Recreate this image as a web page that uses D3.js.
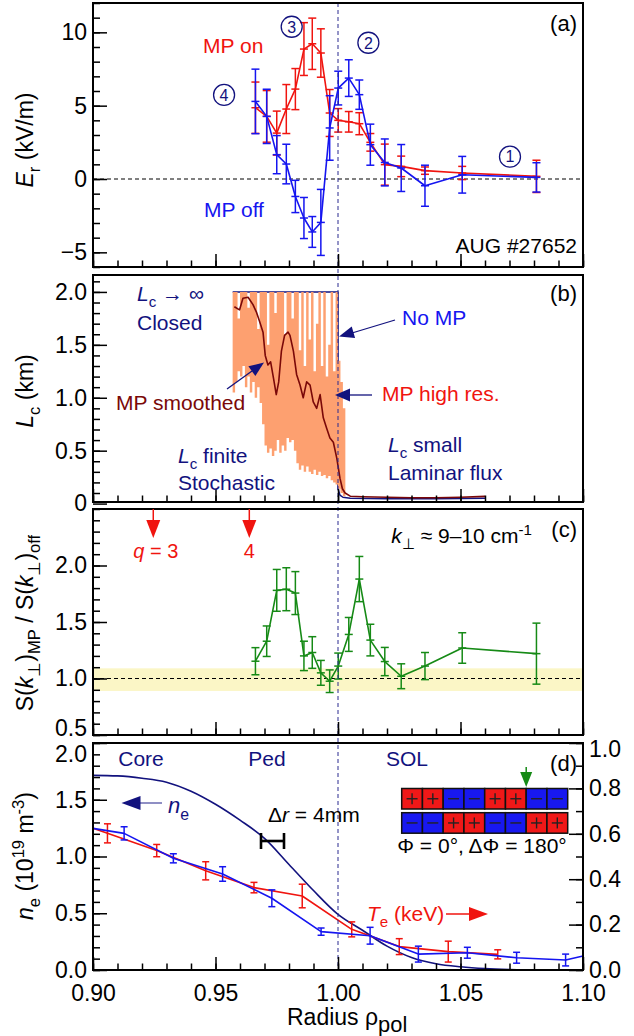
<!DOCTYPE html>
<html>
<head>
<meta charset="utf-8">
<script src="https://cdn.jsdelivr.net/npm/d3@7"></script>
<style>
body { margin: 0; background: #fff; }
svg text { font-family: "Liberation Sans", Arial, Helvetica, sans-serif; }
</style>
</head>
<body>
<div id="chart"></div>
<script>
// reflectometry channels, shared by (a) and (c)
var chanRho = [0.9663, 0.9709, 0.9750, 0.9789, 0.9826, 0.9861, 0.9895, 0.9930, 0.9966,
  1.0001, 1.0044, 1.0087, 1.0132, 1.0191, 1.0258, 1.0355, 1.0507, 1.0810];

// (a) Er in kV/m
var erOn = [4.86, 4.27, 3.13, 4.77, 6.13, 8.86, 9.22, 8.59, 4.5, 4.0, 3.9, 3.77, 2.5, 0.98, 0.86, 0.57, 0.41, 0.18];
var erOnErr = [1.75, 1.76, 1.5, 1.67, 1.4, 1.8, 1.75, 1.65, 1.6, 0.8, 0.7, 0.75, 0.6, 1.4, 0.7, 0.25, 0.45, 1.1];
var erOff = [5.29, 4.27, 1.66, 1.02, -1.19, -2.66, -3.61, -2.96, 3.48, 6.2, 6.88, 5.75, 2.34, 1.13, 0.75, -0.46, 0.29, 0.11];
var erOffErr = [2.2, 1.85, 1.3, 1.35, 1.1, 1.4, 1.05, 2.25, 2.2, 1.15, 1.25, 1.0, 1.4, 1.6, 1.6, 1.4, 1.25, 1.0];

// (b) connection length in km
var lcHiRho = [0.957, 0.958, 0.959, 0.960, 0.961, 0.962, 0.963, 0.964, 0.965, 0.966, 0.967, 0.968,
  0.969, 0.970, 0.971, 0.972, 0.973, 0.974, 0.975, 0.976, 0.977, 0.978, 0.979, 0.980, 0.981, 0.982,
  0.983, 0.984, 0.985, 0.986, 0.987, 0.988, 0.989, 0.990, 0.991, 0.992, 0.993, 0.994, 0.995, 0.996,
  0.997, 0.998, 0.999, 1.000, 1.001, 1.002, 1.003];
var lcHiLow = [1.05, 1.15, 1.25, 1.20, 1.30, 1.10, 1.20, 1.05, 1.15, 1.00, 1.10, 0.95,
  0.75, 0.55, 0.48, 0.52, 0.45, 0.50, 0.60, 0.48, 0.55, 0.50, 0.62, 0.58, 0.60, 0.50,
  0.38, 0.32, 0.36, 0.30, 0.35, 0.30, 0.28, 0.32, 0.27, 0.30, 0.26, 0.27, 0.24, 0.26,
  0.22, 0.20, 0.18, 0.14, 0.10, 0.07, 0.06];
var lcHiHigh = [2.0, 2.0, 1.75, 2.0, 2.0, 2.0, 1.85, 2.0, 2.0, 2.0, 1.65, 2.0,
  2.0, 2.0, 1.5, 2.0, 2.0, 1.8, 2.0, 2.0, 2.0, 1.6, 2.0, 2.0, 1.75, 2.0,
  2.0, 1.45, 2.0, 1.3, 2.0, 1.55, 2.0, 1.25, 1.7, 2.0, 1.3, 2.0, 1.2, 1.5,
  2.0, 1.25, 2.0, 1.35, 1.15, 0.90, 0.06];
var lcSmRho = [0.9577, 0.9598, 0.9612, 0.9633, 0.9653, 0.9667, 0.9680, 0.9694, 0.9703, 0.9714,
  0.9725, 0.9737, 0.9748, 0.9758, 0.9769, 0.9782, 0.9796, 0.9804, 0.9818, 0.9831, 0.9845,
  0.9858, 0.9872, 0.9886, 0.9899, 0.9913, 0.9927, 0.9940, 0.9954, 0.9967, 0.9981, 0.9995,
  1.0008, 1.0018, 1.0029, 1.005, 1.01, 1.02, 1.03, 1.04, 1.05, 1.06];
var lcSm = [1.86, 1.83, 1.94, 1.95, 1.88, 1.81, 1.72, 1.62, 1.40, 1.31,
  1.34, 1.18, 1.03, 1.15, 1.44, 1.59, 1.62, 1.59, 1.44, 1.22, 1.12,
  1.00, 1.15, 1.12, 0.96, 0.90, 1.03, 0.81, 0.71, 0.62, 0.58, 0.43,
  0.24, 0.14, 0.10, 0.07, 0.065, 0.06, 0.055, 0.055, 0.06, 0.068];
var lcNoMpRho = [0.957, 1.0, 1.0, 1.0008, 1.002, 1.005, 1.02, 1.04, 1.06];
var lcNoMp = [2.0, 2.0, 0.14, 0.08, 0.06, 0.05, 0.045, 0.045, 0.05];

// (c) S(k)_MP / S(k)_off
var sRatio = [1.153, 1.33, 1.78, 1.79, 1.756, 1.2, 1.23, 1.05, 0.976, 1.11, 1.39, 1.88, 1.34, 1.15, 1.02, 1.11, 1.27, 1.22];
var sRatioErr = [0.12, 0.135, 0.185, 0.19, 0.19, 0.13, 0.14, 0.11, 0.1, 0.115, 0.15, 0.2, 0.14, 0.125, 0.11, 0.12, 0.135, 0.27];
var qRho = [0.9246, 0.9638];
var qLabels = ['q = 3', '4'];

// (d) profiles
var neRho = [0.90, 0.91, 0.92, 0.93, 0.94, 0.95, 0.96, 0.97, 0.98, 0.99, 1.00,
  1.01, 1.02, 1.03, 1.04, 1.05, 1.06, 1.07, 1.08, 1.10];
var ne = [1.715, 1.71, 1.69, 1.655, 1.575, 1.46, 1.32, 1.16, 0.93, 0.70, 0.49,
  0.35, 0.21, 0.11, 0.055, 0.028, 0.012, 0.004, 0.0, 0.0];
var teOnRho = [0.9059, 0.926, 0.946, 0.9657, 0.9854, 1.0056, 1.025, 1.045, 1.0652];
var teOn = [0.602, 0.526, 0.437, 0.363, 0.326, 0.179, 0.103, 0.081, 0.069];
var teOnErr = [0.042, 0.027, 0.040, 0.023, 0.052, 0.033, 0.035, 0.046, 0.020];
var teOffRho = [0.9127, 0.9328, 0.9529, 0.973, 0.9931, 1.0131, 1.0328, 1.0528, 1.0729, 1.0929];
var teOff = [0.602, 0.492, 0.423, 0.316, 0.169, 0.151, 0.070, 0.076, 0.054, 0.044];
var teOffErr = [0.029, 0.020, 0.032, 0.037, 0.016, 0.037, 0.035, 0.024, 0.024, 0.026];
var teEdgeRho = [0.90, 1.10];
var teOnEdge = [0.624];
var teOffEdge = [0.624, 0.062];
var coilTop = ['+', '+', '-', '-', '+', '+', '-', '-'];
var coilBottom = ['-', '-', '+', '+', '-', '-', '+', '+'];

// tick labels
var xTicks = [0.90, 0.95, 1.00, 1.05, 1.10];
var aTicks = [-5, 0, 5, 10];
var bTicks = [0, 0.5, 1.0, 1.5, 2.0];
var cTicks = [0.5, 1.0, 1.5, 2.0];
var dTicks = [0.0, 0.5, 1.0, 1.5, 2.0];
var dRightTicks = [0.0, 0.2, 0.4, 0.6, 0.8, 1.0];

var RED = '#f0140f', BLUE = '#1515f0', NAVY = '#12127e', GREEN = '#168a16';

var svg = d3.select('#chart').append('svg').attr('width', 634).attr('height', 1036);

var x_scale = d3.scaleLinear().domain([0.9, 1.1]).range([93, 583]);
var y_a = d3.scaleLinear().domain([-6, 12]).range([267, 3]);
var y_b = d3.scaleLinear().domain([0.015, 2.16]).range([502, 275]);
var y_c = d3.scaleLinear().domain([0.5, 2.5]).range([735, 509]);
var y_d = d3.scaleLinear().domain([0, 2]).range([970, 743]);
var y_dr = d3.scaleLinear().domain([0, 1]).range([970, 743]);

//text with italics / sub / superscripts: parts are [text, flags]
function richText(g, x, y, parts, size, color, anchor, subScale) {
  var t = g.append('text').attr('x', x).attr('y', y).attr('font-size', size)
    .attr('fill', color).attr('text-anchor', anchor || 'start');
  var shift = 0;
  parts.forEach(function(p) {
    var f = p[1] || '';
    var want = f.indexOf('b') >= 0 ? size * 0.3 : (f.indexOf('p') >= 0 ? -size * 0.4 : 0);
    var ts = t.append('tspan').text(p[0]).attr('dy', want - shift);
    shift = want;
    if (f.indexOf('i') >= 0) ts.attr('font-style', 'italic');
    if (want !== 0) ts.attr('font-size', size * (subScale || 0.72));
  });
  return t;
}

function arrowHead(g, tipX, tipY, dirX, dirY, len, half, color) {
  var bx = tipX - dirX * len, by = tipY - dirY * len;
  var px = -dirY * half, py = dirX * half;
  g.append('path')
    .attr('d', 'M' + tipX + ',' + tipY + 'L' + (bx + px) + ',' + (by + py) + 'L' + (bx - px) + ',' + (by - py) + 'Z')
    .attr('fill', color);
}

function errBars(g, y, rho, val, err, color, cap, mid) {
  var rows = rho.map(function(r, i) { return {r: r, v: val[i], e: err[i]}; });
  var eg = g.append('g').attr('stroke', color).attr('stroke-width', 1.5);
  eg.selectAll('.bar').data(rows).enter().append('line')
    .attr('x1', function(d) { return x_scale(d.r); })
    .attr('x2', function(d) { return x_scale(d.r); })
    .attr('y1', function(d) { return y(d.v - d.e); })
    .attr('y2', function(d) { return y(d.v + d.e); });
  [-1, 1].forEach(function(s) {
    eg.selectAll('.cap' + s).data(rows).enter().append('line')
      .attr('x1', function(d) { return x_scale(d.r) - cap / 2; })
      .attr('x2', function(d) { return x_scale(d.r) + cap / 2; })
      .attr('y1', function(d) { return y(d.v + s * d.e); })
      .attr('y2', function(d) { return y(d.v + s * d.e); });
  });
  if (mid) {
    eg.selectAll('.mid').data(rows).enter().append('line')
      .attr('x1', function(d) { return x_scale(d.r) - mid / 2; })
      .attr('x2', function(d) { return x_scale(d.r) + mid / 2; })
      .attr('y1', function(d) { return y(d.v); })
      .attr('y2', function(d) { return y(d.v); });
  }
}

function drawLine(g, y, rho, val, color, width, curve) {
  var line = d3.line()
    .x(function(d, i) { return x_scale(rho[i]); })
    .y(function(d) { return y(d); });
  if (curve) line.curve(curve);
  g.append('path').datum(val).attr('d', line)
    .attr('fill', 'none').attr('stroke', color).attr('stroke-width', width)
    .attr('stroke-linejoin', 'round');
}

var plot = svg.append('g');

// yellow band in (c) and dashed reference lines
plot.append('rect')
  .attr('x', x_scale(0.9)).attr('width', x_scale(1.1) - x_scale(0.9))
  .attr('y', y_c(1.09)).attr('height', y_c(0.89) - y_c(1.09))
  .attr('fill', '#fbf6c6');
plot.append('line')
  .attr('x1', x_scale(0.9)).attr('x2', x_scale(1.1)).attr('y1', y_a(0)).attr('y2', y_a(0))
  .attr('stroke', '#000').attr('stroke-width', 1).attr('stroke-dasharray', '4,3');
plot.append('line')
  .attr('x1', x_scale(0.9)).attr('x2', x_scale(1.1)).attr('y1', y_c(1)).attr('y2', y_c(1))
  .attr('stroke', '#000').attr('stroke-width', 1).attr('stroke-dasharray', '4,3');

// (a)
drawLine(plot, y_a, chanRho, erOn, RED, 1.6);
errBars(plot, y_a, chanRho, erOn, erOnErr, RED, 8, 8);
drawLine(plot, y_a, chanRho, erOff, BLUE, 1.6);
errBars(plot, y_a, chanRho, erOff, erOffErr, BLUE, 8, 8);

// (b)
drawLine(plot, y_b, lcNoMpRho, lcNoMp, NAVY, 1.5);
var hiRows = lcHiRho.map(function(r, i) { return {r: r, lo: lcHiLow[i], hi: lcHiHigh[i]}; });
plot.append('path').datum(hiRows)
  .attr('d', d3.area().curve(d3.curveStepAfter)
    .x(function(d) { return x_scale(d.r); })
    .y0(function(d) { return y_b(d.lo); })
    .y1(function(d) { return y_b(d.hi); }))
  .attr('fill', '#fda070');
drawLine(plot, y_b, lcSmRho, lcSm, '#7a0808', 1.6);

// (c)
drawLine(plot, y_c, chanRho, sRatio, GREEN, 1.6);
errBars(plot, y_c, chanRho, sRatio, sRatioErr, GREEN, 8, 8);

// (d)
drawLine(plot, y_d, neRho, ne, NAVY, 1.6, d3.curveMonotoneX);
drawLine(plot, y_dr, [teEdgeRho[0]].concat(teOnRho), teOnEdge.concat(teOn), RED, 1.6);
errBars(plot, y_dr, teOnRho, teOn, teOnErr, RED, 7, 0);
drawLine(plot, y_dr, [teEdgeRho[0]].concat(teOffRho, [teEdgeRho[1]]), [teOffEdge[0]].concat(teOff, [teOffEdge[1]]), BLUE, 1.6);
errBars(plot, y_dr, teOffRho, teOff, teOffErr, BLUE, 7, 0);

// separatrix
svg.append('line')
  .attr('x1', x_scale(1)).attr('x2', x_scale(1)).attr('y1', 3).attr('y2', 970)
  .attr('stroke', '#2a2a90').attr('stroke-width', 1).attr('stroke-dasharray', '4,3');

// frames and axes
function yAxis(y, major, minorStep, fmt, right) {
  var d = y.domain();
  var minor = d3.range(Math.ceil(d[0] / minorStep - 1e-6) * minorStep, d[1] + 1e-6, minorStep);
  var mk = right ? d3.axisRight : d3.axisLeft;
  var g = svg.append('g').attr('transform', 'translate(' + (right ? 583 : 93) + ',0)');
  g.append('g').call(mk(y).tickValues(minor).tickSize(-7).tickFormat(''));
  g.append('g').call(mk(y).tickValues(major).tickSize(-14).tickPadding(6).tickFormat(fmt));
  g.selectAll('.domain').remove();
  g.selectAll('line').attr('stroke-width', 1.5);
  g.selectAll('text').attr('font-size', 23);
  return g;
}
function xAxis(y, labels) {
  var yb = y.range()[0];
  var g = svg.append('g').attr('transform', 'translate(0,' + yb + ')');
  g.append('g').call(d3.axisBottom(x_scale).tickValues(d3.range(0.9, 1.1001, 0.01)).tickSize(-6.5).tickFormat(''));
  g.append('g').call(d3.axisBottom(x_scale).tickValues(xTicks).tickSize(-13).tickPadding(15)
    .tickFormat(labels ? d3.format('.2f') : ''));
  g.selectAll('.domain').remove();
  g.selectAll('line').attr('stroke-width', 1.5);
  g.selectAll('text').attr('font-size', 23);
}

[y_a, y_b, y_c, y_d].forEach(function(y, i) {
  var r = y.range();
  svg.append('rect').attr('x', 93).attr('y', r[1]).attr('width', 490).attr('height', r[0] - r[1])
    .attr('fill', 'none').attr('stroke', '#000').attr('stroke-width', 2);
  xAxis(y, i === 3);
});
yAxis(y_a, aTicks, 1, d3.format('d'));
yAxis(y_b, bTicks, 0.1, function(d) { return d === 0 ? '0' : d3.format('.1f')(d); });
var gc = yAxis(y_c, cTicks, 0.1, d3.format('.1f'));
gc.selectAll('text').filter(function(d) { return d === 0.5; }).attr('dy', '0em');
var gd = yAxis(y_d, dTicks, 0.1, d3.format('.1f'));
gd.selectAll('text').filter(function(d) { return d === 2; }).attr('dy', '0.82em');
var gdr = yAxis(y_dr, dRightTicks, 0.1, d3.format('.1f'), true);
gdr.selectAll('text').filter(function(d) { return d === 1; }).attr('dy', '0.58em');

// axis titles
function yTitle(cy, parts) {
  var g = svg.append('g').attr('transform', 'translate(33,' + cy + ') rotate(-90)');
  richText(g, 0, 0, parts, 23, '#000', 'middle');
}
yTitle(140, [['E', 'i'], ['r', 'b'], [' (kV/m)']]);
yTitle(391, [['L', 'i'], ['c', 'b'], [' (km)']]);
yTitle(623, [['S('], ['k', 'i'], ['\u22a5', 'b'], [')'], ['MP', 'b'], [' / S('], ['k', 'i'], ['\u22a5', 'b'], [')'], ['off', 'b']]);
yTitle(856, [['n', 'i'], ['e', 'b'], [' (10'], ['19', 'p'], [' m'], ['-3', 'p'], [')']]);
richText(svg, 287, 1025, [['Radius \u03c1'], ['pol', 'b']], 23, '#000', 'start', 0.95);

// annotations (a)
var ann = svg.append('g');
richText(ann, 577, 31, [['(a)']], 22, '#000', 'end');
richText(ann, 203, 53, [['MP on']], 21, RED);
richText(ann, 204, 217, [['MP off']], 21, BLUE);
richText(ann, 577, 253, [['AUG #27652']], 21, '#000', 'end');
[[0.9535, 5.73, '4'], [0.9811, 10.38, '3'], [1.0124, 9.29, '2'], [1.0702, 1.52, '1']].forEach(function(c) {
  ann.append('circle').attr('cx', x_scale(c[0])).attr('cy', y_a(c[1])).attr('r', 10.5)
    .attr('fill', 'none').attr('stroke', NAVY).attr('stroke-width', 1.3);
  ann.append('text').attr('x', x_scale(c[0])).attr('y', y_a(c[1])).attr('dy', '0.36em')
    .attr('text-anchor', 'middle').attr('font-size', 16).attr('fill', NAVY).text(c[2]);
});

// annotations (b)
richText(ann, 577, 301, [['(b)']], 22, '#000', 'end');
richText(ann, 137, 301, [['L', 'i'], ['c', 'b'], [' \u2192 \u221e']], 21, NAVY);
richText(ann, 137, 330, [['Closed']], 21, NAVY);
richText(ann, 116, 410, [['MP smoothed']], 21, '#7a0808');
richText(ann, 178, 463, [['L', 'i'], ['c', 'b'], [' finite']], 21, NAVY);
richText(ann, 178, 490, [['Stochastic']], 21, NAVY);
richText(ann, 402, 325, [['No MP']], 21, BLUE);
richText(ann, 382, 401, [['MP high res.']], 21, RED);
richText(ann, 388, 452, [['L', 'i'], ['c', 'b'], [' small']], 21, NAVY);
richText(ann, 388, 480, [['Laminar flux']], 21, NAVY);
ann.append('line').attr('x1', 227).attr('y1', 389).attr('x2', 252).attr('y2', 371)
  .attr('stroke', NAVY).attr('stroke-width', 1.3);
arrowHead(ann, 264, 362.5, 0.81, -0.58, 15, 6, NAVY);
ann.append('line').attr('x1', 395).attr('y1', 320).attr('x2', 352).attr('y2', 333)
  .attr('stroke', NAVY).attr('stroke-width', 1.3);
arrowHead(ann, 339, 336.5, -0.96, 0.28, 15, 6, NAVY);
ann.append('line').attr('x1', 372).attr('y1', 395).attr('x2', 348).attr('y2', 395)
  .attr('stroke', NAVY).attr('stroke-width', 1.3);
arrowHead(ann, 335, 395, -1, 0, 15, 6.5, NAVY);

// annotations (c)
richText(ann, 577, 537, [['(c)']], 22, '#000', 'end');
richText(ann, 532, 543, [['k', 'i'], ['\u22a5', 'b'], [' \u2248 9\u201310 cm'], ['-1', 'p']], 21, '#000', 'end');
qRho.forEach(function(r, i) {
  var qx = x_scale(r);
  ann.append('line').attr('x1', qx).attr('x2', qx).attr('y1', y_c(2.5)).attr('y2', 524)
    .attr('stroke', RED).attr('stroke-width', 1.5);
  arrowHead(ann, qx, 538, 0, 1, 18, 7, RED);
  var parts = i === 0 ? [['q', 'i'], [' = 3']] : [[qLabels[i]]];
  richText(ann, qx + (i === 0 ? 2.5 : 0), 558, parts, 20, RED, 'middle');
});

// annotations (d)
richText(ann, 577, 771, [['(d)']], 22, '#000', 'end');
richText(ann, 141, 766, [['Core']], 21, NAVY, 'middle');
richText(ann, 267, 766, [['Ped']], 21, NAVY, 'middle');
richText(ann, 407, 766, [['SOL']], 21, NAVY, 'middle');
ann.append('line').attr('x1', 138).attr('x2', 162).attr('y1', 803).attr('y2', 803)
  .attr('stroke', '#6a6ab0').attr('stroke-width', 1.5);
arrowHead(ann, 121.5, 803, -1, 0, 19, 7, NAVY);
richText(ann, 168, 813, [['n', 'i'], ['e', 'b']], 22, NAVY);
richText(ann, 367, 921, [['T', 'i'], ['e', 'b'], [' (keV)']], 21, RED);
ann.append('line').attr('x1', 446).attr('x2', 472).attr('y1', 914).attr('y2', 914)
  .attr('stroke', RED).attr('stroke-width', 1.5);
arrowHead(ann, 488, 914, 1, 0, 19, 7, RED);
richText(ann, 268, 822, [['\u0394'], ['r', 'i'], [' = 4mm']], 21, '#000');
var dr = ann.append('g').attr('stroke', '#000').attr('stroke-width', 2.6);
dr.append('line').attr('x1', 260).attr('x2', 285).attr('y1', 841).attr('y2', 841);
dr.append('line').attr('x1', 261).attr('x2', 261).attr('y1', 833).attr('y2', 849);
dr.append('line').attr('x1', 284).attr('x2', 284).attr('y1', 833).attr('y2', 849);

// coil layout inset
var cellW = 20.75, cellH = 20.5, insetX = 401.7;
[[coilTop, 788.5], [coilBottom, 812.7]].forEach(function(row) {
  row[0].forEach(function(s, i) {
    var cx = insetX + i * cellW;
    ann.append('rect').attr('x', cx).attr('y', row[1]).attr('width', cellW).attr('height', cellH)
      .attr('fill', s === '+' ? '#f01818' : '#1818f0').attr('stroke', '#111').attr('stroke-width', 1.5);
    var mx = cx + cellW / 2, my = row[1] + cellH / 2;
    ann.append('line').attr('x1', mx - 5.5).attr('x2', mx + 5.5).attr('y1', my).attr('y2', my)
      .attr('stroke', '#222').attr('stroke-width', 1.4);
    if (s === '+') {
      ann.append('line').attr('x1', mx).attr('x2', mx).attr('y1', my - 5.5).attr('y2', my + 5.5)
        .attr('stroke', '#222').attr('stroke-width', 1.4);
    }
  });
});
ann.append('line').attr('x1', insetX + 6 * cellW).attr('x2', insetX + 6 * cellW).attr('y1', 767).attr('y2', 775)
  .attr('stroke', GREEN).attr('stroke-width', 1.5);
arrowHead(ann, insetX + 6 * cellW, 787, 0, 1, 15, 6, GREEN);
richText(ann, 482, 853, [['\u03a6 = 0\u00b0, \u0394\u03a6 = 180\u00b0']], 21, '#000', 'middle');
</script>
</body>
</html>
